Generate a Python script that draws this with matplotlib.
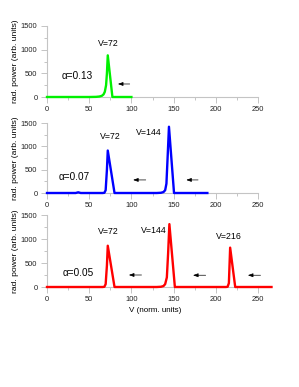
import matplotlib
matplotlib.use("Agg")
import matplotlib.pyplot as plt
from matplotlib.ticker import MultipleLocator

plt.rcParams['font.family'] = ['Liberation Sans', 'DejaVu Sans']

# ---- data ----
g_v = [0, 50, 58, 62, 65, 67, 68.5, 70, 71, 72, 77.5, 100]
g_p = [0, 0, 3, 10, 25, 55, 110, 250, 500, 880, 0, 0]

b_v = [0, 34, 37, 40, 66, 68, 69.5, 71, 72, 80, 130, 135, 138, 140, 141.5, 143, 144.5, 150.5, 190]
b_p = [0, 0, 15, 0, 0, 5, 60, 500, 910, 0, 0, 5, 20, 60, 200, 800, 1420, 0, 0]

r_v = [0, 66, 68, 69.5, 71, 72, 80, 130, 135, 138, 140, 142, 143.5, 145, 151.5,
       212, 214, 215.5, 217, 223, 266]
r_p = [0, 0, 5, 60, 450, 860, 0, 0, 5, 20, 60, 200, 700, 1310, 0,
       0, 5, 80, 820, 0, 0]

series_v = [g_v, b_v, r_v]
series_p = [g_p, b_p, r_p]
colors = ['#00f000', '#0000ff', '#ff0000']
alphas = ['α=0.13', 'α=0.07', 'α=0.05']
alpha_pos = [(36, 450), (32, 340), (37, 290)]
v_labels = [
    [('V=72', 73, 1120)],
    [('V=72', 75, 1220), ('V=144', 121, 1300)],
    [('V=72', 73, 1150), ('V=144', 127, 1170), ('V=216', 216, 1060)],
]
arrows = [
    [(98, 84, 275)],
    [(117, 102, 280), (179, 165, 280)],
    [(112, 97, 250), (188, 173, 245), (253, 238, 245)],
]
x_ticks = [0, 50, 100, 150, 200, 250]
y_ticks = [0, 500, 1000, 1500]

W, H = 299, 387
fig = plt.figure(figsize=(W / 100, H / 100), dpi=100)

panels_px = [(26, 97), (123, 193), (215, 287)]
left_px, right_px = 47, 258
spine_c = '#c4c4c4'

for i, (top, bot) in enumerate(panels_px):
    ax = fig.add_axes([left_px / W, 1 - bot / H, (right_px - left_px) / W, (bot - top) / H])
    ax.plot(series_v[i], series_p[i], color=colors[i], lw=1.7, clip_on=False, zorder=5)
    ax.set_xlim(0, 250)
    ax.set_ylim(0, 1500)
    ax.set_xticks(x_ticks)
    ax.set_yticks(y_ticks)
    ax.xaxis.set_minor_locator(MultipleLocator(25))
    ax.yaxis.set_minor_locator(MultipleLocator(250))
    for s in ['top', 'right']:
        ax.spines[s].set_visible(False)
    for s in ['left', 'bottom']:
        ax.spines[s].set_color(spine_c)
        ax.spines[s].set_linewidth(0.8)
    ax.tick_params(which='major', length=4.3, width=0.7, color=spine_c,
                   labelsize=5.4, labelcolor='#222222', pad=2.5)
    ax.tick_params(which='minor', length=2.2, width=0.7, color=spine_c)
    ax.patch.set_visible(False)

    ax.text(alpha_pos[i][0], alpha_pos[i][1], alphas[i], fontsize=7.2, ha='center', va='center')
    for t, x, y in v_labels[i]:
        ax.text(x, y, t, fontsize=6.3, ha='center', va='center')
    for x1, x0, y in arrows[i]:
        ax.annotate('', xy=(x0, y), xytext=(x1, y),
                    arrowprops=dict(arrowstyle='-|>,head_length=0.3,head_width=0.11',
                                    color='black', lw=0.5, shrinkA=0, shrinkB=0))

    fig.text(15.5 / W, 1 - (top + bot) / 2 / H, 'rad. power (arb. units)',
             rotation=90, ha='center', va='center', fontsize=6.1)

fig.text(155.5 / W, 1 - 311 / H, 'V (norm. units)', ha='center', va='center', fontsize=5.8)

fig.savefig('out.png', dpi=100)
